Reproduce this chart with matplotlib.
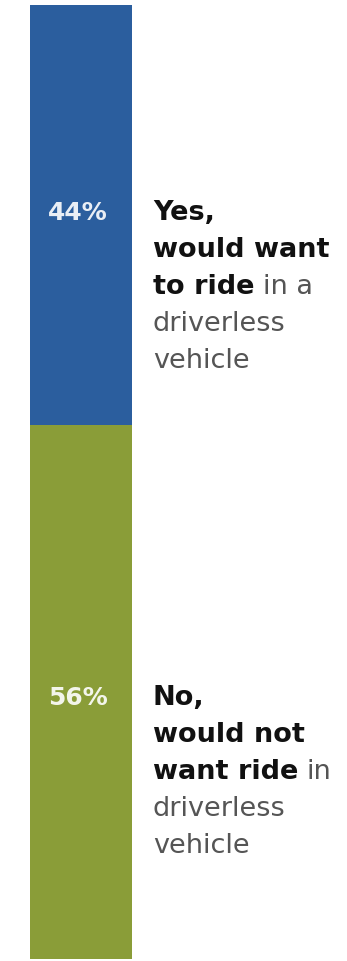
import matplotlib
matplotlib.use("Agg")
import matplotlib.pyplot as plt

# Survey shares (percent)
categories = ["Yes", "No"]
shares = [44, 56]
pct_labels = ["44%", "56%"]
# Each description line is a list of (text, bold) runs
descriptions = [
    [[("Yes,", True)],
     [("would want", True)],
     [("to ride", True), ("in a", False)],
     [("driverless", False)],
     [("vehicle", False)]],
    [[("No,", True)],
     [("would not", True)],
     [("want ride", True), ("in", False)],
     [("driverless", False)],
     [("vehicle", False)]],
]

colors = ["#2b5e9e", "#8a9d38"]
label_offsets = [22.4, 29.3]   # baseline of first line, below segment start (percent units)
line_step = 3.88               # line spacing in percent units
fs = 19.5

plt.rcParams["font.family"] = ["DejaVu Sans"]

W, H = 347, 962
fig = plt.figure(figsize=(W / 100, H / 100), dpi=100)
fig.patch.set_facecolor("white")
ax = fig.add_axes([30 / W, 2 / H, 102 / W, 954 / H])
ax.set_xlim(-0.5, 0.5)
ax.set_ylim(100, 0)
ax.axis("off")

start = 0
for cat, val, col, pct, desc, off in zip(categories, shares, colors,
                                         pct_labels, descriptions, label_offsets):
    ax.bar(0, val, bottom=start, width=1.0, color=col, edgecolor="none")
    base = start + off
    ax.text(-0.03, base, pct, color="white", fontsize=18, fontweight="bold",
            ha="center", va="baseline", alpha=0.9)
    for i, line in enumerate(desc):
        y = base + i * line_step
        prev = None
        for txt, bold in line:
            kw = dict(fontsize=fs, va="baseline", ha="left",
                      color="#111111" if bold else "#555555",
                      fontweight="bold" if bold else "normal",
                      annotation_clip=False)
            if prev is None:
                prev = ax.annotate(txt, xy=(0.5, y), xycoords="data",
                                   xytext=(15, 0), textcoords="offset points", **kw)
            else:
                prev = ax.annotate(txt, xy=(1, y), xycoords=(prev, "data"),
                                   xytext=(6, 0), textcoords="offset points", **kw)
    start += val

fig.savefig("out.png", dpi=100, facecolor="white")
